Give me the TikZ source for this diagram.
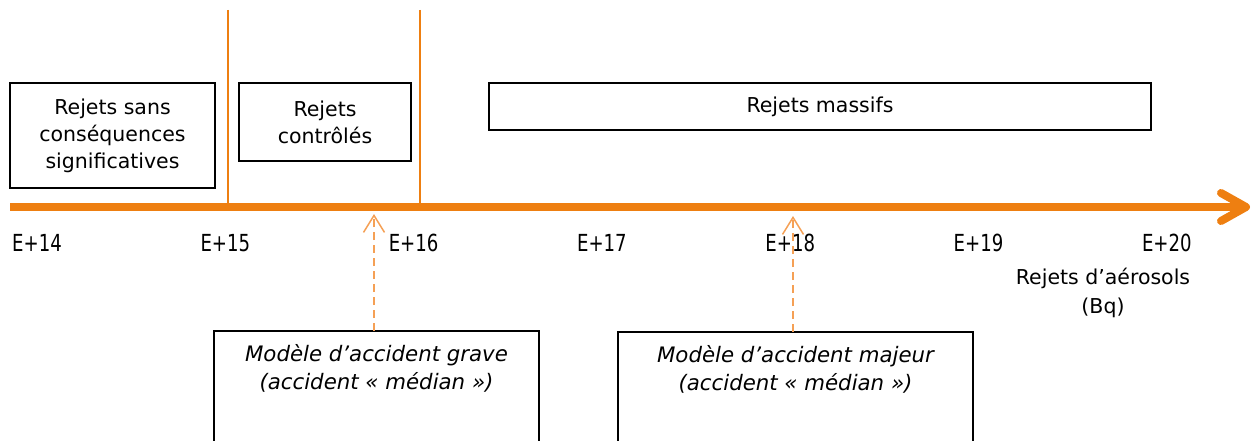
\documentclass[tikz,border=0pt]{standalone}
\usepackage{fontspec}
\setmainfont{DejaVu Sans}
\newfontfamily\ticksfont[FakeStretch=0.77]{DejaVu Sans}
\usetikzlibrary{arrows.meta}
\definecolor{axisorange}{RGB}{238,127,17}
\definecolor{pointerorange}{RGB}{245,160,85}

\tikzset{
  every node/.style={font=\fontsize{20.5}{27}\selectfont, inner sep=0pt},
  rangebox/.style={draw=black, line width=2.3pt, align=center},
  modeltext/.style={align=center, font=\fontsize{21.3}{28}\selectfont\itshape, inner ysep=13pt},
  modelframe/.style={draw=black, line width=2.3pt},
  ticklabel/.style={anchor=west, font=\ticksfont\fontsize{23.5}{27}\selectfont},
  axisline/.style={draw=axisorange, line width=8pt},
  axishead/.style={draw=axisorange, line width=8pt, line cap=round, line join=round},
  sepline/.style={draw=axisorange, line width=2pt},
  pointer/.style={draw=pointerorange, line width=1.5pt, dash pattern=on 8pt off 5pt,
    -{Straight Barb[length=17pt,width=21pt]}}
}

\begin{document}
\begin{tikzpicture}[x=1pt,y=-1pt]
\useasboundingbox (0,0) rectangle (1259,441);
\clip (0,0) rectangle (1259,441);

% axis end points and separators
\coordinate (axstart) at (10,207);
\coordinate (axend) at (1246,207);
\coordinate (sep15) at (228,10);
\coordinate (sep16) at (420,10);
\draw[sepline] (sep15) -- (sep15 |- axstart);
\draw[sepline] (sep16) -- (sep16 |- axstart);

% release ranges
\node[rangebox, minimum width=205pt, minimum height=105pt] (sans) at (112.5,135.5)
  {Rejets sans\\conséquences\\significatives};
\node[rangebox, minimum width=172pt, minimum height=78pt] (controles) at (325,122)
  {Rejets\\contrôlés};
\node[rangebox, minimum width=662pt, minimum height=47pt] (massifs) at (820,106.5)
  {Rejets massifs};

% main axis with open arrow head
\draw[axisline] (axstart) -- (axend);
\draw[axishead] ([shift={(-25,-14)}]axend) -- (axend) -- ([shift={(-25,14)}]axend);

% decade labels
\foreach \k [count=\i from 0] in {14,...,20}
  \node[ticklabel] (e\k) at ({12+188.3*\i},243) {E+\k};

\node[align=center, font=\fontsize{20.5}{29}\selectfont] (unit) at (1103,293)
  {Rejets d’aérosols\\(Bq)};

% accident models
\node[modeltext, anchor=north, minimum width=325pt] (grave) at (376.5,331)
  {Modèle d’accident grave\\(accident « médian »)};
\draw[modelframe] (grave.north west) rectangle ([yshift=-140pt]grave.north east);

\node[modeltext, anchor=north, minimum width=355pt] (majeur) at (795.5,332)
  {Modèle d’accident majeur\\(accident « médian »)};
\draw[modelframe, line width=2pt] (majeur.north west) rectangle ([yshift=-140pt]majeur.north east);

% pointers to the axis
\coordinate (gravetip) at (374,214);
\coordinate (majeurtip) at (793,216);
\draw[pointer] (grave.north -| gravetip) -- (gravetip);
\draw[pointer] (majeur.north -| majeurtip) -- (majeurtip);
\end{tikzpicture}
\end{document}
